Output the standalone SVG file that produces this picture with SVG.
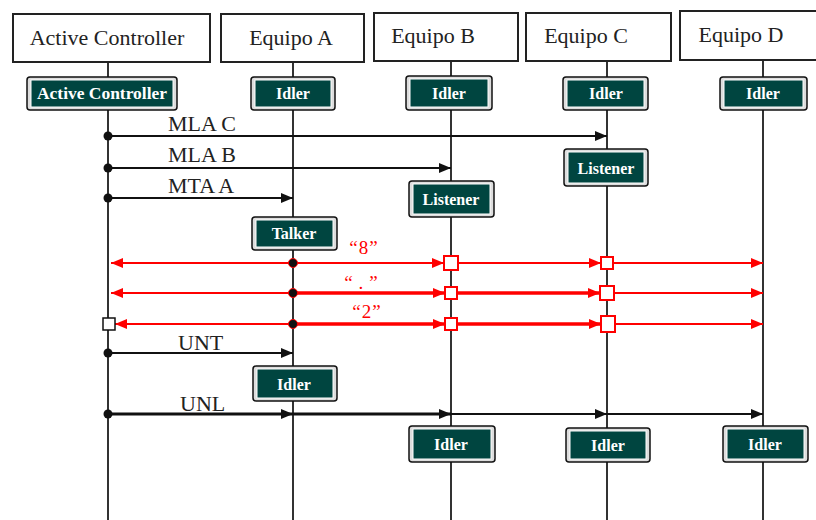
<svg xmlns="http://www.w3.org/2000/svg" width="816" height="520" viewBox="0 0 816 520">
<style>
.hdr{fill:#fff;stroke:#222;stroke-width:2}
.ht{font-family:"Liberation Serif","Times New Roman",serif;font-size:22px;fill:#222}
.life{stroke:#333;stroke-width:2}
.gb-o{fill:#ddd;stroke:#111;stroke-width:1.5}
.gb-i{fill:#004540;stroke:#fff;stroke-width:1}
.gt{font-family:"Liberation Serif","Times New Roman",serif;font-size:16px;font-weight:bold;fill:#fff;text-anchor:middle}
.msg{stroke:#111;stroke-width:2;fill:none}
.msgT{stroke:#111;stroke-width:3;fill:none}
.ml{font-family:"Liberation Serif","Times New Roman",serif;font-size:22px;fill:#222}
.red{stroke:#f00;stroke-width:2;fill:none}
.redT{stroke:#f00;stroke-width:3.5;fill:none}
.sq{fill:#fff;stroke:#f00;stroke-width:2}
.rl{font-family:"Liberation Serif","Times New Roman",serif;font-size:19px;fill:#f00}
</style>
<defs>
<marker id="ab" viewBox="0 0 12 10" refX="12" refY="5" markerWidth="12" markerHeight="10" markerUnits="userSpaceOnUse" orient="auto"><path d="M0,0 L12,5 L0,10 z" fill="#111"/></marker>
<marker id="ar" viewBox="0 0 12 10" refX="12" refY="5" markerWidth="12" markerHeight="10" markerUnits="userSpaceOnUse" orient="auto"><path d="M0,0 L12,5 L0,10 z" fill="#f00"/></marker>
</defs>

<g id="lifelines">
<line class="life" x1="108" y1="62" x2="108" y2="520"/>
<line class="life" x1="293" y1="62" x2="293" y2="520"/>
<line class="life" x1="451" y1="61" x2="451" y2="520"/>
<line class="life" x1="607" y1="61" x2="607" y2="520"/>
<line class="life" x1="763" y1="60" x2="763" y2="520"/>
</g>

<g id="hdr-ac"><rect class="hdr" x="13" y="14" width="197" height="48"/><text class="ht" x="107" y="45" text-anchor="middle">Active Controller</text></g>
<g id="hdr-a"><rect class="hdr" x="221" y="14" width="143" height="48"/><text class="ht" x="291" y="45" text-anchor="middle">Equipo A</text></g>
<g id="hdr-b"><rect class="hdr" x="374" y="13" width="144" height="48"/><text class="ht" x="433" y="43" text-anchor="middle">Equipo B</text></g>
<g id="hdr-c"><rect class="hdr" x="526" y="13" width="145" height="48"/><text class="ht" x="586" y="43" text-anchor="middle">Equipo C</text></g>
<g id="hdr-d"><rect class="hdr" x="680" y="11" width="140" height="49"/><text class="ht" x="741" y="42" text-anchor="middle">Equipo D</text></g>

<g id="st-ac"><rect class="gb-o" x="27" y="77" width="150" height="33" rx="3"/><rect class="gb-i" x="31" y="80" width="142" height="27"/><text class="gt" x="102" y="99" textLength="130" lengthAdjust="spacingAndGlyphs">Active Controller</text></g>
<g id="st-a1"><rect class="gb-o" x="251" y="77" width="84" height="33" rx="3"/><rect class="gb-i" x="255" y="80" width="76" height="27"/><text class="gt" x="293" y="99">Idler</text></g>
<g id="st-b1"><rect class="gb-o" x="406" y="76" width="86" height="34" rx="3"/><rect class="gb-i" x="410" y="79" width="78" height="28"/><text class="gt" x="449" y="99">Idler</text></g>
<g id="st-c1"><rect class="gb-o" x="563" y="77" width="85" height="33" rx="3"/><rect class="gb-i" x="567" y="80" width="77" height="27"/><text class="gt" x="606" y="99">Idler</text></g>
<g id="st-d1"><rect class="gb-o" x="720" y="77" width="87" height="33" rx="3"/><rect class="gb-i" x="724" y="80" width="79" height="27"/><text class="gt" x="763" y="99">Idler</text></g>

<g id="st-c2"><rect class="gb-o" x="564" y="149" width="84" height="37" rx="3"/><rect class="gb-i" x="568" y="152" width="76" height="31"/><text class="gt" x="606" y="174">Listener</text></g>
<g id="st-b2"><rect class="gb-o" x="409" y="181" width="85" height="36" rx="3"/><rect class="gb-i" x="413" y="184" width="77" height="30"/><text class="gt" x="451" y="205">Listener</text></g>
<g id="st-a2"><rect class="gb-o" x="252" y="217" width="85" height="33" rx="3"/><rect class="gb-i" x="256" y="220" width="77" height="27"/><text class="gt" x="294" y="239">Talker</text></g>
<g id="st-a3"><rect class="gb-o" x="253" y="366" width="84" height="35" rx="3"/><rect class="gb-i" x="257" y="369" width="76" height="29"/><text class="gt" x="294" y="390">Idler</text></g>
<g id="st-b3"><rect class="gb-o" x="409" y="426" width="86" height="36" rx="3"/><rect class="gb-i" x="413" y="429" width="78" height="30"/><text class="gt" x="451" y="450">Idler</text></g>
<g id="st-c3"><rect class="gb-o" x="566" y="428" width="84" height="34" rx="3"/><rect class="gb-i" x="570" y="431" width="76" height="28"/><text class="gt" x="608" y="451">Idler</text></g>
<g id="st-d3"><rect class="gb-o" x="723" y="426" width="85" height="36" rx="3"/><rect class="gb-i" x="727" y="429" width="77" height="30"/><text class="gt" x="765" y="450">Idler</text></g>

<g id="connectors">
<line class="msg" x1="108" y1="136" x2="607" y2="136" marker-end="url(#ab)"/>
<circle cx="108" cy="136" r="4.5" fill="#111"/>
<text class="ml" x="168" y="131">MLA C</text>
<line class="msg" x1="108" y1="168" x2="451" y2="168" marker-end="url(#ab)"/>
<circle cx="108" cy="168" r="4.5" fill="#111"/>
<text class="ml" x="168" y="162">MLA B</text>
<line class="msg" x1="108" y1="198" x2="293" y2="198" marker-end="url(#ab)"/>
<circle cx="108" cy="198" r="4.5" fill="#111"/>
<text class="ml" x="168" y="193">MTA A</text>

<line class="red" x1="293" y1="263" x2="111" y2="263" marker-end="url(#ar)"/>
<line class="red" x1="293" y1="263" x2="444" y2="263" marker-end="url(#ar)"/>
<line class="red" x1="458" y1="263" x2="601" y2="263" marker-end="url(#ar)"/>
<line class="red" x1="613" y1="263" x2="763" y2="263" marker-end="url(#ar)"/>
<rect class="sq" x="444" y="256" width="14" height="14"/>
<rect class="sq" x="601" y="257" width="12" height="12"/>
<circle cx="293" cy="263" r="4.5" fill="#111" stroke="#f00" stroke-width="1"/>

<line class="red" x1="293" y1="293" x2="111" y2="293" marker-end="url(#ar)"/>
<line class="redT" x1="293" y1="293" x2="445" y2="293" marker-end="url(#ar)"/>
<line class="redT" x1="457" y1="293" x2="600" y2="293" marker-end="url(#ar)"/>
<line class="red" x1="614" y1="293" x2="763" y2="293" marker-end="url(#ar)"/>
<rect class="sq" x="445" y="287" width="12" height="12"/>
<rect class="sq" x="600" y="286" width="14" height="14"/>
<circle cx="293" cy="293" r="4.5" fill="#111" stroke="#f00" stroke-width="1"/>

<line class="red" x1="293" y1="324" x2="115" y2="324" marker-end="url(#ar)"/>
<line class="redT" x1="293" y1="324" x2="445" y2="324" marker-end="url(#ar)"/>
<line class="redT" x1="457" y1="324" x2="601" y2="324" marker-end="url(#ar)"/>
<line class="red" x1="615" y1="324" x2="763" y2="324" marker-end="url(#ar)"/>
<rect class="sq" x="445" y="318" width="12" height="12"/>
<rect class="sq" x="601" y="316" width="14" height="16"/>
<rect x="103" y="318" width="12" height="12" fill="#fff" stroke="#111" stroke-width="1.5"/>
<circle cx="293" cy="324" r="4.5" fill="#111" stroke="#f00" stroke-width="1"/>

<text class="rl" x="364" y="254" text-anchor="middle" letter-spacing="1">“8”</text>
<text class="rl" x="364" y="289" text-anchor="middle" letter-spacing="6">“.”</text>
<text class="rl" x="367" y="318" text-anchor="middle" letter-spacing="1">“2”</text>

<line class="msg" x1="108" y1="353" x2="293" y2="353" marker-end="url(#ab)"/>
<circle cx="108" cy="353" r="4.5" fill="#111"/>
<text class="ml" x="178" y="350">UNT</text>

<line class="msgT" x1="108" y1="414" x2="293" y2="414" marker-end="url(#ab)"/>
<line class="msgT" x1="293" y1="414" x2="451" y2="414" marker-end="url(#ab)"/>
<line class="msg" x1="451" y1="414" x2="607" y2="414" marker-end="url(#ab)"/>
<line class="msg" x1="607" y1="414" x2="763" y2="414" marker-end="url(#ab)"/>
<circle cx="108" cy="414" r="4.5" fill="#111"/>
<text class="ml" x="180" y="411">UNL</text>
</g>
</svg>
